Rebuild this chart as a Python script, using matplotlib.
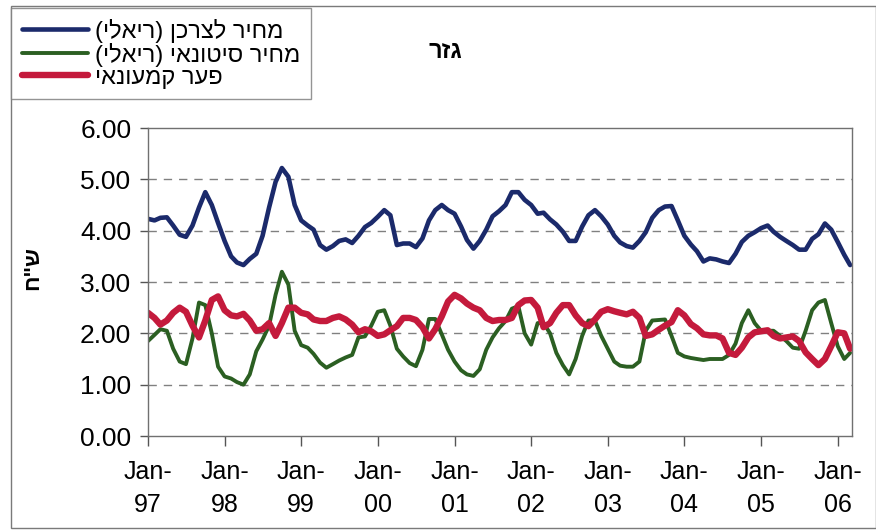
import numpy as np
import pandas as pd
import matplotlib
matplotlib.use("Agg")
from matplotlib import pyplot as plt
from matplotlib.patches import Rectangle

plt.rcParams["font.family"] = ["Liberation Sans", "DejaVu Sans"]

# monthly series, Jan-1997 .. Mar-2006 (real prices, NIS per kg)
months = pd.date_range("1997-01-01", periods=111, freq="MS")

consumer_price = [
    4.23, 4.20, 4.25, 4.26, 4.10, 3.92, 3.88, 4.10, 4.45, 4.75,
    4.50, 4.15, 3.80, 3.50, 3.38, 3.33, 3.45, 3.55, 3.90, 4.45,
    4.95, 5.22, 5.05, 4.50, 4.20, 4.10, 4.02, 3.72, 3.63, 3.70,
    3.80, 3.83, 3.76, 3.90, 4.07, 4.15, 4.27, 4.40, 4.30, 3.72,
    3.75, 3.75, 3.68, 3.85, 4.20, 4.40, 4.50, 4.40, 4.33, 4.08,
    3.82, 3.65, 3.80, 4.02, 4.28, 4.38, 4.50, 4.75, 4.75, 4.60,
    4.50, 4.33, 4.35, 4.22, 4.12, 3.98, 3.80, 3.80, 4.08, 4.30,
    4.40, 4.28, 4.12, 3.90, 3.77, 3.70, 3.67, 3.80, 3.97, 4.25,
    4.40, 4.47, 4.48, 4.20, 3.90, 3.73, 3.60, 3.40, 3.46, 3.44,
    3.40, 3.37, 3.55, 3.78, 3.90, 3.97, 4.05, 4.10, 3.98, 3.88,
    3.80, 3.72, 3.63, 3.63, 3.84, 3.93, 4.14, 4.02, 3.78, 3.53, 3.33,
]

wholesale_price = [
    1.85, 1.97, 2.08, 2.05, 1.70, 1.45, 1.40, 1.90, 2.60, 2.55,
    2.00, 1.35, 1.16, 1.12, 1.05, 1.00, 1.20, 1.65, 1.88, 2.15,
    2.75, 3.20, 2.95, 2.05, 1.77, 1.72, 1.60, 1.43, 1.33, 1.40,
    1.47, 1.53, 1.58, 1.92, 1.94, 2.15, 2.42, 2.45, 2.15, 1.70,
    1.55, 1.42, 1.36, 1.68, 2.28, 2.28, 1.98, 1.68, 1.45, 1.28,
    1.20, 1.17, 1.30, 1.68, 1.92, 2.10, 2.24, 2.48, 2.53, 2.00,
    1.78, 2.20, 2.20, 2.00, 1.62, 1.38, 1.20, 1.50, 1.95, 2.25,
    2.25, 1.95, 1.70, 1.45, 1.37, 1.35, 1.35, 1.45, 2.05, 2.25,
    2.26, 2.27, 1.95, 1.62, 1.55, 1.52, 1.50, 1.48, 1.50, 1.50,
    1.50, 1.58, 1.80, 2.20, 2.45, 2.20, 2.05, 2.05, 2.05, 1.95,
    1.85, 1.72, 1.70, 2.05, 2.45, 2.60, 2.65, 2.20, 1.75, 1.50, 1.62,
]

retail_gap = [
    2.40, 2.30, 2.17, 2.25, 2.40, 2.50, 2.42, 2.15, 1.92, 2.25,
    2.65, 2.72, 2.45, 2.35, 2.33, 2.38, 2.25, 2.05, 2.08, 2.20,
    1.95, 2.20, 2.50, 2.50, 2.40, 2.37, 2.27, 2.24, 2.24, 2.30,
    2.33, 2.27, 2.17, 2.02, 2.08, 2.04, 1.95, 1.98, 2.06, 2.14,
    2.30, 2.30, 2.26, 2.12, 1.90, 2.08, 2.33, 2.62, 2.75, 2.68,
    2.58, 2.50, 2.45, 2.30, 2.24, 2.26, 2.26, 2.30, 2.55, 2.64,
    2.65, 2.50, 2.12, 2.20, 2.40, 2.55, 2.55, 2.35, 2.20, 2.14,
    2.27, 2.42, 2.47, 2.43, 2.40, 2.37, 2.42, 2.30, 1.95, 1.98,
    2.07, 2.15, 2.22, 2.45, 2.35, 2.18, 2.10, 1.98, 1.96, 1.96,
    1.90, 1.62, 1.58, 1.72, 1.92, 2.02, 2.04, 2.06, 1.95, 1.90,
    1.92, 1.94, 1.85, 1.63, 1.50, 1.38, 1.50, 1.75, 2.02, 2.00, 1.70,
]

series_labels = ["מחיר לצרכן (ריאלי)", "מחיר סיטונאי (ריאלי)", "פער קמעונאי"]
series_colors = ["#1b2a6b", "#2b5f22", "#c41a3c"]
series_widths = [3.3, 2.8, 4.6]
chart_title = "גזר"
y_label = 'ש"ח'
y_ticks = [0, 1, 2, 3, 4, 5, 6]


def visual(s):
    # matplotlib has no bidi support: flip right-to-left text by hand
    flipped = s[::-1]
    return flipped.translate(str.maketrans("()", ")("))


W, H = 876, 531
fig = plt.figure(figsize=(W / 100, H / 100), dpi=100)

# outer chart frame
fig.patches.append(Rectangle((11 / W, 3 / H), (W - 11) / W, (H - 9) / H,
                             transform=fig.transFigure, fill=False,
                             edgecolor="#7a7a7a", linewidth=1.0))

ax = fig.add_axes([148 / W, (H - 436) / H, (852 - 148) / W, (436 - 128) / H])

values = [consumer_price, wholesale_price, retail_gap]
handles = []
for vals, col, lw, lab in zip(values, series_colors, series_widths, series_labels):
    line, = ax.plot(months, vals, color=col, linewidth=lw,
                    solid_joinstyle="round", solid_capstyle="round",
                    label=visual(lab))
    handles.append(line)

ax.set_ylim(0, 6)
ax.set_xlim(months[0], pd.Timestamp("2006-03-10"))
ax.set_yticks(y_ticks)
ax.set_yticklabels([f"{v:.2f}" for v in y_ticks], fontsize=19)
for v in y_ticks[1:-1]:
    ax.axhline(v, color="#808080", linewidth=1.0, linestyle=(0, (6, 5)), zorder=0)

jan_ticks = pd.date_range("1997-01-01", "2006-01-01", freq="YS")
ax.set_xticks(jan_ticks)
ax.set_xticklabels([f"Jan-\n{d:%y}" for d in jan_ticks], fontsize=18,
                   linespacing=1.5)
ax.tick_params(axis="x", direction="out", length=7, width=1, color="#555555", pad=10)
ax.tick_params(axis="y", direction="out", length=6, width=1, color="#555555", pad=6)
for sp in ax.spines.values():
    sp.set_color("#707070")
    sp.set_linewidth(1.0)

fig.text(445 / W, 1 - 52 / H, visual(chart_title), fontsize=17,
         fontweight="bold", ha="center", va="center")
fig.text(33 / W, 1 - 268 / H, visual(y_label), fontsize=16,
         fontweight="bold", ha="center", va="center", rotation=90)

leg = fig.legend(handles=handles, loc="upper left",
                 bbox_to_anchor=(11 / W, 1 - 8 / H), bbox_transform=fig.transFigure,
                 prop={"size": 17}, frameon=True, fancybox=False, borderaxespad=0,
                 handlelength=2.8, handletextpad=0.3, labelspacing=0.0,
                 borderpad=0.45)
leg.get_frame().set_edgecolor("#7a7a7a")
leg.get_frame().set_linewidth(1.0)

fig.savefig("out.png", dpi=100)
